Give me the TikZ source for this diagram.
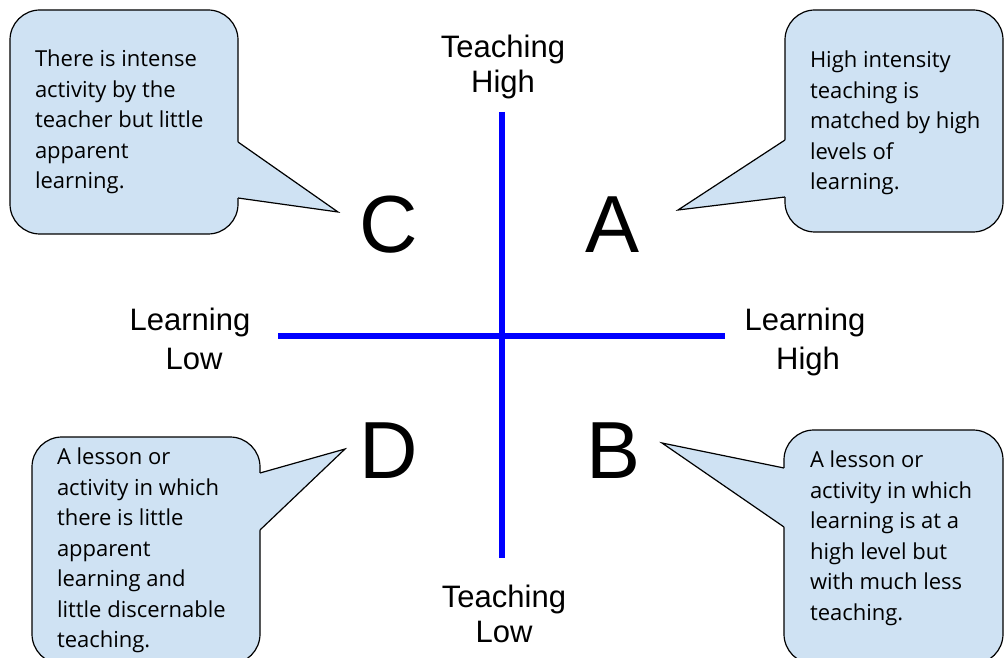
\documentclass[tikz,border=0pt]{standalone}
\usepackage{fontspec}
\setmainfont{Liberation Sans}
\newfontfamily\notefont{Open Sans}
\usetikzlibrary{positioning,calc}

\tikzset{
  notebox/.style={draw=drawColor, fill=noteColor, line width=1.2pt, rounded corners=30pt, inner sep=0pt, outer sep=0pt},
  notetext/.style={inner sep=0pt, outer sep=0pt, align=left, text=drawColor, font=\notefont\fontsize{22}{30.5}\selectfont},
  tail/.style={draw=drawColor, line width=1.2pt, line join=miter},
  quadrant/.style={anchor=base, inner sep=0pt, outer sep=0pt, text=drawColor, font=\fontsize{81}{97}\selectfont},
  axislabel/.style={anchor=north, inner sep=0pt, outer sep=0pt, align=center, text=drawColor, font=\fontsize{31}{35}\selectfont},
  axis/.style={draw=axisColor, line width=6pt}
}

\begin{document}
\begin{tikzpicture}[x=1pt,y=1pt]
\definecolor{fillColor}{RGB}{255,255,255}
\definecolor{drawColor}{RGB}{0,0,0}
\definecolor{noteColor}{RGB}{207,226,243}
\definecolor{axisColor}{RGB}{0,0,255}
\path[use as bounding box,fill=fillColor] (0,0) rectangle (1004,657);
\clip (0,0) rectangle (1004,657);

% axes
\coordinate (learnLow) at (278,321);
\coordinate (learnHigh) at (725,321);
\coordinate (teachHigh) at (502,545);
\coordinate (teachLow) at (502,99);
\path[axis] (learnLow) -- (learnHigh);
\path[axis] (teachHigh) -- (teachLow);

\node[axislabel] (labTeachHigh) at (503,622) {Teaching\\High};
\node[axislabel] (labTeachLow) at (504,72) {Teaching\\Low};
\node[axislabel] (labLearnLow) at (190,349) {Learning\\[4pt]\hspace*{8pt}Low};
\node[axislabel] (labLearnHigh) at (805,349) {Learning\\[4pt]\hspace*{6pt}High};

% quadrants
\node[quadrant] (quadA) at (613,404) {A};
\node[quadrant] (quadB) at (614,179) {B};
\node[quadrant] (quadC) at (389,404) {C};
\node[quadrant] (quadD) at (389,179) {D};

% callout C
\node[notebox, minimum width=228pt, minimum height=224pt] (noteC) at (124,535) {};
\coordinate (tipC) at (338,445);
\path[fill=noteColor] ($(noteC.north east)+(-2,-132)$) -- ($(noteC.north east)+(0,-132)$) -- (tipC) --
	($(noteC.north east)+(0,-188)$) -- ($(noteC.north east)+(-2,-188)$) -- cycle;
\path[tail] ($(noteC.north east)+(0,-132)$) -- (tipC) -- ($(noteC.north east)+(0,-188)$);
\node[notetext, below right=40pt and 25pt of noteC.north west] (textC) {There is intense\\activity by the\\teacher but little\\apparent\\learning.};

% callout A
\node[notebox, minimum width=218pt, minimum height=222pt] (noteA) at (894,536) {};
\coordinate (tipA) at (678,447);
\path[fill=noteColor] ($(noteA.north west)+(2,-130)$) -- ($(noteA.north west)+(0,-130)$) -- (tipA) --
	($(noteA.north west)+(0,-187)$) -- ($(noteA.north west)+(2,-187)$) -- cycle;
\path[tail] ($(noteA.north west)+(0,-130)$) -- (tipA) -- ($(noteA.north west)+(0,-187)$);
\node[notetext, below right=41pt and 25pt of noteA.north west] (textA) {High intensity\\teaching is\\matched by high\\levels of\\learning.};

% callout D
\node[notebox, minimum width=228pt, minimum height=227pt] (noteD) at (146,106.5) {};
\coordinate (tipD) at (345,208);
\path[fill=noteColor] ($(noteD.north east)+(-2,-36)$) -- ($(noteD.north east)+(0,-36)$) -- (tipD) --
	($(noteD.north east)+(0,-93)$) -- ($(noteD.north east)+(-2,-93)$) -- cycle;
\path[tail] ($(noteD.north east)+(0,-36)$) -- (tipD) -- ($(noteD.north east)+(0,-93)$);
\node[notetext, below right=11pt and 25pt of noteD.north west] (textD) {A lesson or\\activity in which\\there is little\\apparent\\learning and\\little discernable\\teaching.};

% callout B
\node[notebox, minimum width=219pt, minimum height=234pt] (noteB) at (893.5,110) {};
\coordinate (tipB) at (662,214);
\path[fill=noteColor] ($(noteB.north west)+(2,-38)$) -- ($(noteB.north west)+(0,-38)$) -- (tipB) --
	($(noteB.north west)+(0,-97)$) -- ($(noteB.north west)+(2,-97)$) -- cycle;
\path[tail] ($(noteB.north west)+(0,-38)$) -- (tipB) -- ($(noteB.north west)+(0,-97)$);
\node[notetext, below right=21pt and 26pt of noteB.north west] (textB) {A lesson or\\activity in which\\learning is at a\\high level but\\with much less\\teaching.};
\end{tikzpicture}
\end{document}
